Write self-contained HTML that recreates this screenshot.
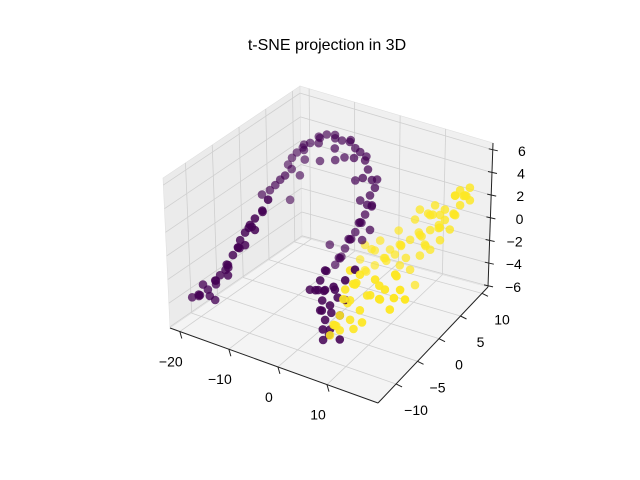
<!DOCTYPE html>
<html><head><meta charset="utf-8"><style>
body{margin:0;background:#fff}
svg{display:block;font-family:"Liberation Sans","DejaVu Sans",sans-serif}
</style></head><body>
<svg id="chart" width="640" height="480" viewBox="0 0 640 480">
<rect width="640" height="480" fill="#fff"/>
<text x="327" y="50" font-size="16" text-anchor="middle" fill="#000">t-SNE projection in 3D</text>
<g id="panes"></g>
<g id="grid"></g>
<g id="axes"></g>
<g id="pts"></g>
</svg>
<script>
// ---- data ----
const purpleX=[-21.6,-20.0,-18.4,-16.9,-15.9,-14.3,-13.3,-12.2,-11.8,-10.8,-9.8,-8.8,-7.3,-6.1,-15.0,-13.4,-12.3,-11.3,-10.3,-13.5,-12.7,-11.7,-10.5,-9.0,-7.0,-5.6,-3.9,-2.5,-0.9,0.2,1.2,2.2,2.8,3.6,4.2,3.2,3.6,2.2,1.2,0.2,-0.9,-1.9,-2.9,-3.9,1.7,0.7,0.3,1.1,2.7,0.7,1.7,2.7,4.7,5.8,3.7,-1.4,4.7,-16.9,-14.3,-8.8,-11.1,3.2,1.6,7.8,-13.1,-10.1,-3.9,0.2,-5.0,5.8,1.7,1.2,1.3,-19.4,-10.8,
 -21.0,-19.5,-17.5,-16.0,-15.0,-13.8,-12.7,-11.5,-10.2,-9.3,-8.0,-14.8,-18.0,
 -12.0,-11.0,-9.5,-8.0,-6.5,-4.7,-3.2,-1.5,0.7,1.7,2.5,3.9,3.4,2.8,1.7,0.7,-0.4,-1.4,-2.4,-3.4,-7.0,-2.0,
 1.2,0.5,0.7,1.8,2.2,2.0,3.5,4.2,2.5];
const purpleY=[-10,-10,-10,-10,-10,-10,-10,-10,-10,-10,-10,-10,-10,-10,0,0,0,0,0,5,5,5,5,5,5,5,5,5,5,5,5,5,5,5,5,5,5,5,5,5,5,5,5,5,-5,-5,-5,-5,-5,-5,-5,-5,-5,-5,-5,-5,-5,-10,-10,-10,5,5,5,-5,5,5,5,5,5,-5,-5,5,-5,-10,-10,
 -9,-11,-9,-11,-9,-11,-9,-11,-9,-11,-9,-10,-10,
 4,6,4,6,4,6,4,6,4,6,4,6,4,6,4,6,4,6,4,6,5,5,
 -4,-6,-4,-6,-4,-6,-4,-6,-5];
const purpleZ=[-4.1,-3.7,-3.0,-2.0,-1.4,-0.3,0.7,1.5,2.2,3.0,3.8,4.5,5.4,6.5,1.9,2.5,3.1,3.7,4.2,2.8,3.5,4.1,4.7,5.3,6.0,6.5,6.4,6.4,6.5,6.1,5.9,5.3,4.6,3.8,3.2,2.4,1.6,0.6,-0.2,-1.2,-2.0,-2.9,-3.9,-4.6,-0.5,-1.5,-2.4,-3.2,-3.4,-4.1,-4.8,-5.5,-4.0,-2.5,-1.9,-2.6,-6.1,-3.7,-1.2,3.5,2.2,-0.6,-1.7,0.4,-0.2,3.7,4.5,3.3,-3.0,-0.8,-2.2,1.7,-6.6,-2.7,1.9,
 -4.3,-3.2,-2.8,-1.5,-1.0,0.2,1.0,2.0,3.2,4.0,4.8,-0.8,-3.5,
 3.0,4.5,5.0,5.6,6.0,6.2,6.0,6.2,5.7,5.2,4.2,3.5,2.0,1.0,0.2,-0.7,-1.5,-2.4,-3.4,-4.2,4.0,5.0,
 -1.0,-2.0,-2.8,-3.6,-4.5,-5.2,-3.0,-1.2,-6.0];
const yellowX=[2.7,3.7,4.7,6.8,5.8,7.8,8.8,8.8,6.8,4.7,10.9,12.9,13.9,6.8,11.9,14.9,17.0,18.0,16.0,9.1,-0.1,1.9,4.0,6.0,7.0,9.1,11.1,13.2,15.2,16.2,18.3,19.3,20.3,21.3,18.3,16.2,13.2,11.1,10.1,7.0,11.1,13.2,-1.1,-0.1,3.0,15.2,17.2,21.3,12.1,10.1,19.3,15.2,5.0,14.2,1.9,
 3.2,4.2,5.5,6.2,7.3,8.2,9.5,10.0,12.0,13.5,15.5,16.5,7.5,
 0.9,3.0,5.0,6.5,8.0,10.1,12.2,14.2,15.7,17.2,18.8,19.8,20.8,17.5,14.5,12.0,9.0,11.5,2.0,6.0];
const yellowY=[-5,-5,-5,-5,-5,-5,-5,-5,-5,-5,-5,-5,-5,-5,-5,-5,-5,-5,-5,8,8,8,8,8,8,8,8,8,8,8,8,8,8,8,8,8,8,8,8,8,8,8,8,8,8,8,8,8,8,8,8,8,8,8,8,
 -4,-6,-4,-6,-4,-6,-4,-6,-4,-6,-4,-6,-5,
 7,9,7,9,7,9,7,9,7,9,7,9,7,9,7,9,7,9,7,9];
const yellowZ=[-6.0,-5.0,-4.0,-2.4,-1.6,-0.9,0.1,-3.0,-4.1,-5.3,-1.4,-1.5,-0.5,0.2,0.1,-2.1,-0.1,-0.8,1.1,-4.4,-5.7,-5.0,-4.1,-3.5,-2.5,-1.8,-1.1,-0.4,0.1,0.9,1.6,2.6,3.6,4.4,3.3,1.8,0.9,1.1,0.1,-4.3,-2.9,-2.1,-4.9,-3.5,-2.7,-1.0,0.2,3.3,-1.8,-5.6,3.9,1.2,-3.2,1.9,-3.7,
 -5.5,-4.5,-3.2,-2.0,-1.2,-0.4,-2.0,-3.5,-0.8,-1.0,0.5,-0.5,-4.8,
 -5.3,-4.6,-3.8,-3.0,-2.1,-1.4,-0.7,-0.2,0.5,1.2,2.1,3.1,4.0,2.8,1.5,0.5,-3.0,-2.4,-3.2,-1.8];
const xTicks=[-20,-10,0,10];
const yTicks=[-10,-5,0,5,10];
const zTicks=[-6,-4,-2,0,2,4,6];
const XMIN=-22,XMAX=20.4,YMIN=-14.2,YMAX=11.4,ZMIN=-6.1,ZMAX=6.6;

const C={
 '000':[170,328],'100':[378,403],'110':[488,287],'010':[302,237],
 '001':[163,178],'101':[382,250],'111':[493,143],'011':[300,86]};
function boxP(x,y,z){
 const u=(x-XMIN)/(XMAX-XMIN),v=(y-YMIN)/(YMAX-YMIN),w=(z-ZMIN)/(ZMAX-ZMIN);
 let r=[0,0];
 for(const k in C){const a=+k[0],b=+k[1],c=+k[2];
  const wt=(a?u:1-u)*(b?v:1-v)*(c?w:1-w);r[0]+=wt*C[k][0];r[1]+=wt*C[k][1];}
 return r;}
function project(x,y,z){
 return [378+4.9*(x-19)+3.75*(y+13.5), 404+1.57*(x-19)-4.4*(y+13.5)-11.5*(z+6.5)];}

const NS='http://www.w3.org/2000/svg';
function mk(tag,attrs,parent){const e=document.createElementNS(NS,tag);for(const k in attrs)e.setAttribute(k,attrs[k]);parent.appendChild(e);return e;}
const panes=document.getElementById('panes'),grid=document.getElementById('grid'),axes=document.getElementById('axes'),pts=document.getElementById('pts');
function poly(arr,fill,name){const e=mk('polygon',{points:arr.map(p=>p.join(',')).join(' '),fill:fill,stroke:'#e0e0e0','stroke-width':0.6},panes);
 
 }
poly([boxP(XMIN,YMIN,ZMIN),boxP(XMIN,YMAX,ZMIN),boxP(XMIN,YMAX,ZMAX),boxP(XMIN,YMIN,ZMAX)],'#ebebeb','left-pane');
poly([boxP(XMIN,YMAX,ZMIN),boxP(XMAX,YMAX,ZMIN),boxP(XMAX,YMAX,ZMAX),boxP(XMIN,YMAX,ZMAX)],'#f0f0f0','back-pane');
poly([boxP(XMIN,YMIN,ZMIN),boxP(XMAX,YMIN,ZMIN),boxP(XMAX,YMAX,ZMIN),boxP(XMIN,YMAX,ZMIN)],'#f4f4f4','floor-pane');
function line(a,b,parent,color,w,name){const e=mk('line',{x1:a[0],y1:a[1],x2:b[0],y2:b[1],stroke:color,'stroke-width':w},parent);
 
 return e;}
xTicks.forEach(t=>{line(boxP(t,YMIN,ZMIN),boxP(t,YMAX,ZMIN),grid,'#cfcfcf',0.8,'x-grid-floor');line(boxP(t,YMAX,ZMIN),boxP(t,YMAX,ZMAX),grid,'#cfcfcf',0.8,'x-grid-back');});
yTicks.forEach(t=>{line(boxP(XMIN,t,ZMIN),boxP(XMAX,t,ZMIN),grid,'#cfcfcf',0.8,'y-grid-floor');line(boxP(XMIN,t,ZMIN),boxP(XMIN,t,ZMAX),grid,'#cfcfcf',0.8,'y-grid-left');});
zTicks.forEach(t=>{line(boxP(XMIN,YMIN,t),boxP(XMIN,YMAX,t),grid,'#cfcfcf',0.8,'z-grid-left');line(boxP(XMIN,YMAX,t),boxP(XMAX,YMAX,t),grid,'#cfcfcf',0.8,'z-grid-back');});
line(boxP(XMIN,YMIN,ZMIN),boxP(XMAX,YMIN,ZMIN),axes,'#222',1,'x-axis-line');
line(boxP(XMAX,YMIN,ZMIN),boxP(XMAX,YMAX,ZMIN),axes,'#222',1,'y-axis-line');
line(boxP(XMAX,YMAX,ZMIN),boxP(XMAX,YMAX,ZMAX),axes,'#222',1,'z-axis-line');
function label(txt,x,y,anchor,name){const e=mk('text',{x:x,y:y,'font-size':14,'text-anchor':anchor,fill:'#000'},axes);e.textContent=txt;
 
 }
const fmt=v=>v<0?'\u2212'+(-v):String(v);
xTicks.forEach(t=>{const p=boxP(t,YMIN,ZMIN);line(p,[p[0]+2,p[1]+7],axes,'#222',1,'x-tick');label(fmt(t),p[0]-9,p[1]+35,'middle','x-tick-label');});
yTicks.forEach(t=>{const p=boxP(XMAX,t,ZMIN);line(p,[p[0]+6,p[1]+3],axes,'#222',1,'y-tick');label(fmt(t),p[0]+20,p[1]+31,'middle','y-tick-label');});
zTicks.forEach(t=>{const p=boxP(XMAX,YMAX,t);line([p[0]-4,p[1]-1],[p[0]+5,p[1]+1],axes,'#222',1,'z-tick');label(fmt(t),p[0]+33,p[1]+6,'end','z-tick-label');});
const all=[];
purpleX.forEach((v,i)=>all.push([v,purpleY[i],purpleZ[i],'#440154','purple-point']));
yellowX.forEach((v,i)=>all.push([v,yellowY[i],yellowZ[i],'#fde725','yellow-point']));
const depth=p=>p[0]*0.5-p[1]*0.87;
all.sort((a,b)=>depth(a)-depth(b));
const dmin=Math.min(...all.map(depth)),dmax=Math.max(...all.map(depth));
all.forEach(p=>{const s=project(p[0],p[1],p[2]);
 const op=0.6+0.4*(depth(p)-dmin)/(dmax-dmin);
 const c=mk('circle',{cx:s[0].toFixed(1),cy:s[1].toFixed(1),r:4.3,fill:p[3],'fill-opacity':op.toFixed(2)},pts);
 
 });
</script>
</body></html>
